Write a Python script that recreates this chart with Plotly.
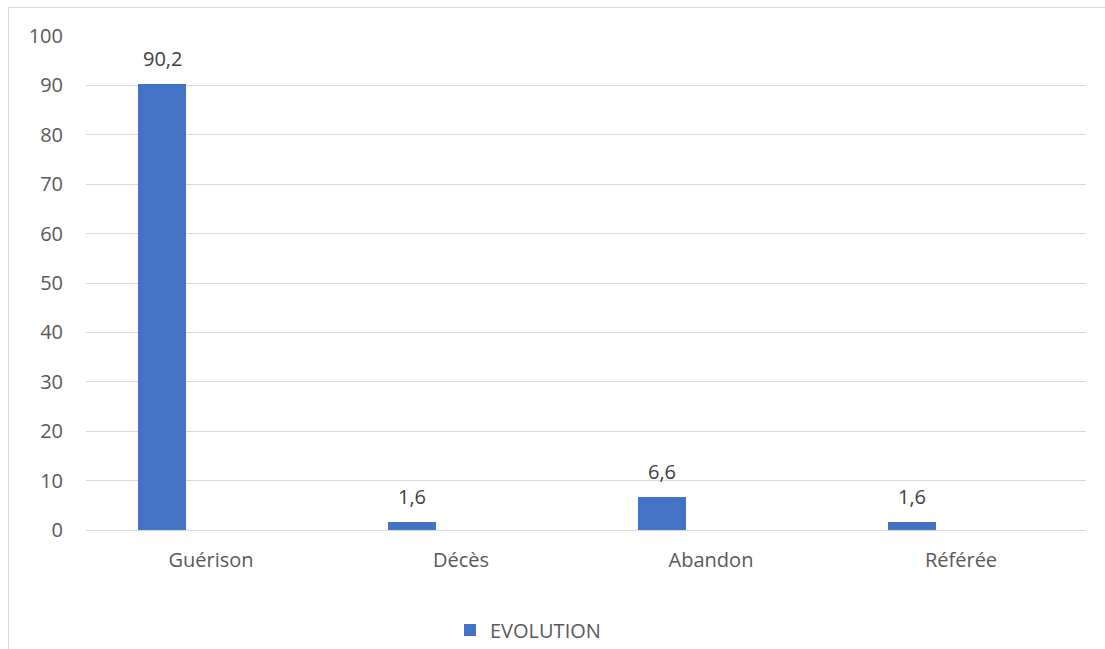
import plotly.graph_objects as go

categories = ["Guérison", "Décès", "Abandon", "Référée"]
values = [90.2, 1.6, 6.6, 1.6]
labels = [f"{v}".replace(".", ",") for v in values]
y_ticks = [0, 10, 20, 30, 40, 50, 60, 70, 80, 90, 100]

W, H = 1105, 649
L, R, T, B = 86, 19, 36, 119
pw, ph = W - L - R, H - T - B

font = "Open Sans"
grey = "#595959"
fs = 20
bar_width, bar_offset = 0.192, -0.292

fig = go.Figure()
fig.add_trace(go.Bar(
    x=categories, y=values, name="EVOLUTION",
    marker=dict(color="#4472C4", line=dict(width=0)),
    width=bar_width, offset=bar_offset,
))

# data labels centred above each bar
for i, (c, v, t) in enumerate(zip(categories, values, labels)):
    fig.add_annotation(
        x=i + bar_offset + bar_width / 2, y=v, xref="x", yref="y",
        text=t, showarrow=False, yanchor="middle", yshift=26,
        font=dict(family=font, size=fs, color="#404040"),
    )

fig.update_layout(
    width=W, height=H,
    margin=dict(l=L, r=R, t=T, b=B, autoexpand=False),
    paper_bgcolor="white", plot_bgcolor="white",
    font=dict(family=font, size=fs, color=grey),
    showlegend=True,
    legend=dict(orientation="h", x=(450 - L) / pw, xanchor="left",
                y=(530 - 630) / ph, yanchor="middle",
                font=dict(family=font, size=fs, color=grey)),
    xaxis=dict(showgrid=False, showline=False, ticks="", ticklen=0,
               ticklabelstandoff=16, automargin=False,
               tickfont=dict(size=fs, color=grey)),
    yaxis=dict(range=[0, 100], tickvals=y_ticks, showgrid=True,
               gridcolor="#d9d9d9", gridwidth=1, zeroline=True,
               zerolinecolor="#d9d9d9", zerolinewidth=1,
               ticks="", ticklabelstandoff=22, automargin=False,
               tickfont=dict(size=fs, color=grey)),
    bargap=0,
    shapes=[dict(type="rect", xref="paper", yref="paper",
                 x0=(8.5 - L) / pw, x1=(1120 - L) / pw,
                 y0=(530 - 680) / ph, y1=(530 - 7.5) / ph,
                 line=dict(color="#d9d9d9", width=1), fillcolor="rgba(0,0,0,0)",
                 layer="below")],
)
fig.write_html("out.html")
